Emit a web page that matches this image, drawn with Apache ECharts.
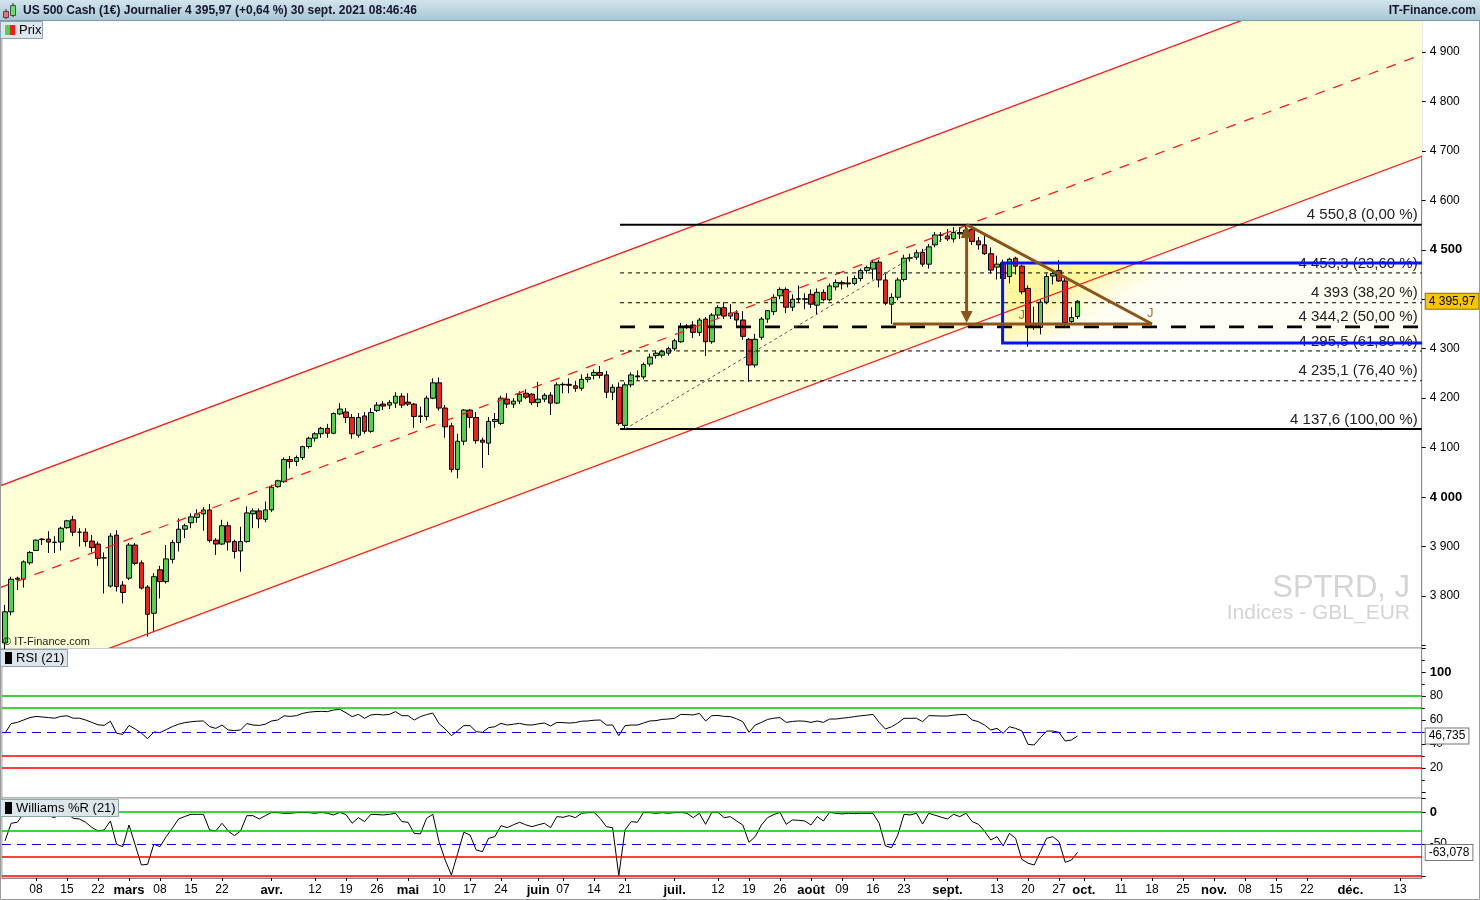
<!DOCTYPE html>
<html><head><meta charset="utf-8">
<script src="https://cdn.jsdelivr.net/npm/echarts@6/dist/echarts.min.js"></script>
<style>html,body{margin:0;padding:0;background:#fff;}#c{width:1480px;height:900px;}</style>
</head><body><div id="c"></div>
<script>
// ---------- DATA ----------
const startDate = '2021-02-01';
const dayCount = 229;
const open = [3705,3768,3834,3834,3867,3892,3914,3915,3908,3909,
3938,3954,3929,3929,3911,3905,3877,3820,3923,3822,
3836,3903,3867,3818,3765,3853,3829,3874,3908,3935,
3948,3959,3966,3974,3913,3905,3942,3910,3891,3910,
3966,3972,3955,3974,4021,4031,4076,4072,4080,4102,
4119,4128,4139,4129,4168,4172,4161,4125,4164,4133,
4175,4188,4186,4190,4204,4192,4188,4163,4163,4200,
4231,4180,4144,4056,4113,4176,4161,4115,4109,4153,
4149,4198,4188,4194,4210,4208,4191,4198,4206,4190,
4227,4228,4225,4220,4238,4246,4252,4247,4212,4222,
4145,4227,4245,4243,4269,4286,4287,4291,4300,4314,
4344,4348,4333,4360,4314,4368,4383,4366,4372,4358,
4319,4267,4323,4360,4375,4407,4420,4384,4400,4401,
4410,4388,4414,4399,4425,4434,4431,4432,4442,4458,
4461,4475,4439,4390,4404,4440,4483,4485,4495,4471,
4510,4530,4528,4522,4535,4535,4541,4518,4510,4492,
4465,4474,4446,4483,4467,4422,4350,4343,4394,4447,
4458,4437,4355,4365];
const high = [3782,3839,3839,3872,3891,3914,3917,3931,3921,3940,
3954,3962,3937,3937,3923,3910,3888,3927,3933,3830,
3907,3907,3872,3822,3846,3861,3903,3913,3957,3946,
3967,3975,3980,3986,3917,3954,3950,3914,3940,3981,
3977,3977,3991,4025,4035,4080,4083,4084,4104,4122,
4131,4142,4148,4171,4190,4180,4168,4170,4172,4180,
4192,4194,4196,4212,4210,4210,4190,4183,4205,4240,
4242,4186,4150,4128,4178,4178,4172,4120,4162,4170,
4205,4210,4200,4214,4218,4210,4233,4210,4212,4232,
4232,4240,4235,4248,4250,4258,4265,4255,4228,4232,
4232,4252,4256,4272,4290,4295,4298,4304,4320,4352,
4350,4356,4362,4364,4372,4388,4394,4390,4378,4376,
4322,4330,4364,4378,4410,4424,4424,4410,4428,4412,
4420,4422,4420,4432,4440,4438,4446,4448,4462,4468,
4480,4480,4452,4412,4444,4490,4492,4500,4502,4512,
4536,4536,4542,4546,4546,4550.8,4546,4526,4530,4505,
4488,4480,4484,4486,4470,4428,4385,4400,4452,4458,
4479,4445,4384,4398];
const low = [3690,3761,3812,3817,3863,3891,3903,3887,3887,3892,
3936,3921,3900,3900,3888,3861,3805,3817,3809,3785,
3832,3862,3813,3718,3728,3795,3825,3866,3890,3917,
3937,3948,3932,3908,3883,3903,3892,3876,3849,3908,
3937,3937,3949,3970,4019,4029,4058,4063,4075,4098,
4112,4120,4120,4127,4166,4150,4118,4120,4128,4130,
4172,4176,4178,4180,4180,4184,4140,4150,4155,4198,
4175,4120,4050,4038,4105,4140,4108,4059,4085,4140,
4146,4180,4180,4188,4198,4186,4182,4192,4166,4188,
4210,4210,4213,4215,4232,4238,4240,4200,4196,4145,
4137.6,4222,4236,4238,4264,4280,4282,4286,4296,4312,
4340,4322,4326,4285,4310,4362,4360,4360,4345,4318,
4233,4262,4318,4352,4368,4400,4372,4376,4394,4380,
4382,4370,4396,4396,4418,4420,4424,4428,4436,4452,
4440,4424,4388,4350,4398,4436,4476,4480,4466,4462,
4505,4516,4518,4515,4522,4530,4510,4500,4490,4452,
4440,4432,4432,4450,4410,4304,4338,4329,4390,4430,
4435,4345,4350,4360];
const close = [3768,3834,3836,3869,3888,3913,3915,3909,3909,3937,
3952,3929,3929,3910,3898,3876,3877,3921,3819,3807,
3903,3866,3816,3763,3839,3829,3875,3908,3935,3942,
3960,3966,3974,3912,3905,3942,3909,3890,3910,3968,
3972,3956,3974,4020,4033,4076,4072,4080,4102,4119,
4128,4139,4129,4169,4178,4161,4128,4161,4133,4171,
4186,4184,4191,4204,4186,4188,4163,4164,4200,4231,
4180,4142,4056,4113,4176,4161,4114,4111,4153,4157,
4200,4188,4194,4208,4202,4191,4198,4206,4190,4227,
4228,4226,4220,4238,4242,4252,4246,4212,4222,4149,
4227,4247,4243,4268,4283,4291,4294,4300,4316,4343,
4346,4333,4358,4314,4368,4383,4366,4372,4358,4325,
4267,4319,4360,4377,4404,4420,4384,4400,4401,4400,
4390,4414,4399,4427,4434,4431,4433,4442,4458,4464,
4475,4439,4392,4404,4439,4483,4484,4494,4471,4506,
4530,4530,4522,4535,4532,4540,4517,4510,4492,4459,
4471,4442,4481,4467,4415,4343,4343,4394,4446,4452,
4437,4353,4363,4395.97];
const rsi = [49,57,58,60,62,63,62.5,62,61.5,63,
63.5,61.5,61.5,60,58,56,55.5,59,49,48,
55.5,52.5,49,44.5,50,49.5,52,54.5,56.5,57.8,
58.5,59,59.2,54.5,53,55.8,51.7,51.2,51.7,57,
55.8,55.5,56.5,59.2,60,63.5,63,63.6,65.5,66.5,
67,67.2,67,68.3,68.9,66,62.8,64.7,61.4,64.2,
64.7,64.2,64.7,67,63.6,63.6,60,62.8,64.5,65.8,
57,52.5,47,51,55.3,55.3,50.3,49.7,53.6,54.4,
57.2,55.8,56.5,57.2,56,55.8,56.8,57.5,55,58,
57.8,57.5,57.8,59,59.2,59.8,60,55.8,55.8,47,
55.3,55.8,55.8,57.5,59.2,59.5,60.5,60.8,61.4,64.7,
64.5,64.2,65.5,59.2,63.6,63.8,63,62.8,61,58.6,
49.7,55.8,58,60.5,61.5,62,58,58.8,59.2,59,
58,59.2,58,60.8,60.8,61.5,62,62.8,63.5,64,
64.7,58,52.5,54.4,57.5,61.4,61.4,61.5,58.6,63.6,
63.5,63.3,63.3,64,64.5,64.7,60,58.6,55.8,51.7,
53,48.9,54.4,53,51,39.7,39.2,45.3,50.8,50.8,
49.7,42.5,43.3,46.735];
const willr = [-45,-17.6,-16,-2,0,-0.5,-2,-6,-8.8,-2,
-2,-9.8,-10.9,-16,-24,-29.6,-28,-14,-50.5,-54.1,
-20.3,-51.5,-82.8,-81.7,-50.5,-54.1,-38.5,-25,-10.9,-7,
-3.6,-3.6,-3.6,-28,-29.6,-17.6,-29.6,-36.9,-29.6,-5.7,
-5.7,-10.9,-5.7,-0.5,-1,-2,-2,-1,-0.5,-1,
-2,-0.5,-2,-4.6,-0.5,-4,-17.6,-8.8,-15,-3.6,
-4,-4.6,-3.6,-2,-15,-16,-33.3,-34.3,-9.8,-3.6,
-46.3,-75,-98.4,-65,-31.7,-35.9,-59.3,-61.9,-41.1,-38.5,
-21.3,-24.4,-20,-16,-20,-22.9,-20,-17.6,-24.4,-7.2,
-8.3,-5.7,-8.8,-2,-1,-0.5,-10,-22.9,-24.4,-99.4,
-28,-15,-16,-0.5,-1,-2,-1,-2,-1,-0.5,
-2,-8.8,-2,-19.2,-0.5,-0.5,-8.8,-7.2,-14,-20.3,
-47.3,-38.5,-20.3,-8.8,-4,-0.5,-19.2,-12.4,-13,-14,
-20.3,-7.2,-14,-0.5,-2,-3,-2,-2.5,-2,-2,
-2,-17.6,-53,-55.7,-35.9,-3.6,-4.6,-2,-18.7,-2,
-5,-8,-10.9,-3.6,-7.2,-2,-15,-19.2,-30,-43.7,
-38.5,-53,-33.3,-41.1,-73.9,-80,-82.8,-61.9,-41.1,-38.5,
-46.3,-78.6,-75,-63.078];
const tickLabels = [['2021-02-08','08'],['2021-02-15','15'],['2021-02-22','22'],['2021-03-01','mars',1],['2021-03-08','08'],['2021-03-15','15'],['2021-03-22','22'],['2021-04-01','avr.',1],['2021-04-12','12'],['2021-04-19','19'],['2021-04-26','26'],['2021-05-03','mai',1],['2021-05-10','10'],['2021-05-17','17'],['2021-05-24','24'],['2021-06-01','juin',1],['2021-06-07','07'],['2021-06-14','14'],['2021-06-21','21'],['2021-07-01','juil.',1],['2021-07-12','12'],['2021-07-19','19'],['2021-07-26','26'],['2021-08-02','août',1],['2021-08-09','09'],['2021-08-16','16'],['2021-08-23','23'],['2021-09-01','sept.',1],['2021-09-13','13'],['2021-09-20','20'],['2021-09-27','27'],['2021-10-01','oct.',1],['2021-10-11','11'],['2021-10-18','18'],['2021-10-25','25'],['2021-11-01','nov.',1],['2021-11-08','08'],['2021-11-15','15'],['2021-11-22','22'],['2021-12-01','déc.',1],['2021-12-13','13']];
const fibLevels = [4550.8, 4453.3, 4393, 4344.2, 4295.5, 4235.1, 4137.6];
const fibRatios = [0, 23.6, 38.2, 50, 61.8, 76.4, 100];
const fibLabels = ['4 550,8 (0,00 %)','4 453,3 (23,60 %)','4 393 (38,20 %)','4 344,2 (50,00 %)','4 295,5 (61,80 %)','4 235,1 (76,40 %)','4 137,6 (100,00 %)'];
const fibStart = 99.2;
const fibAnchor = [[100, 4137.6],[155.1, 4550.8]];
const channelUpper = [[-1, 4021.6],[229, 5102.6]];
const channelLower = [[-1, 3610.5],[229, 4691.5]];
const boxRect = [[160.9, 4473.4],[240, 4311.6]];
const triBase = [[143.2, 4350],[185, 4350]];
const triTop = [[155.1, 4550.8],[185, 4350]];
const arrowV = [[155.1, 4548],[155.1, 4352]];
const jMarks = [[164, 4368],[184.7, 4372]];
const lastPrice = 4395.97, lastRsi = 46.735, lastWill = -63.078;
const rsiLevels = [[80,'g'],[70,'g'],[50,'b'],[30,'r'],[20,'r']];
const willLevels = [[0,'g'],[-30,'g'],[-50,'b'],[-70,'r'],[-100,'r']];
const titleText = 'US 500 Cash (1€) Journalier 4 395,97 (+0,64 %) 30 sept. 2021 08:46:46';

// ---------- BUILD ----------
const FONT = '"Liberation Sans", Arial, sans-serif';
const categories = [];
{ const p = startDate.split('-').map(Number); const d = new Date(Date.UTC(p[0], p[1]-1, p[2]));
  while (categories.length < dayCount) { const w = d.getUTCDay(); if (w > 0 && w < 6) categories.push(d.toISOString().slice(0,10)); d.setUTCDate(d.getUTCDate()+1); } }
const tickMap = {}; tickLabels.forEach(t => { tickMap[t[0]] = t; });
function grp(s){ return s.replace(/\B(?=(\d{3})+(?!\d))/g, ' '); }
function fmtDec(v, d){ const neg = v < 0; const s = Math.abs(v).toFixed(d).split('.'); return (neg?'-':'') + grp(s[0]) + (s[1] ? ','+s[1] : ''); }
const candleData = open.map((o,i) => [o, close[i], low[i], high[i]]);
const lvlColor = {g:'#00c400', b:'#0000ff', r:'#ff0000'};
function levelLines(arr){ return arr.map(l => ({yAxis:l[0], lineStyle:{color:lvlColor[l[1]], width: l[1]==='b'?1.2:1.5, type: l[1]==='b'?[9,6]:'solid'}})); }
function valueBox(v, txt, bg, bc){ return {yAxis:v, lineStyle:{width:0, color:'rgba(0,0,0,0)'}, label:{show:true, position:'end', distance:4, formatter: txt, backgroundColor:bg, borderColor:bc, borderWidth:1, padding:[2,3,1,3], color:'#000', fontSize:12, fontFamily:FONT}}; }

function bgRender(params, api){
  const P = p => api.coord(p);
  const u0=P(channelUpper[0]), u1=P(channelUpper[1]), l0=P(channelLower[0]), l1=P(channelLower[1]);
  const b0=P(boxRect[0]), b1=P(boxRect[1]);
  const g = new echarts.graphic.LinearGradient(b0[0], b0[1], b0[0]+62, b0[1]+96, [
    {offset:0, color:'rgba(255,238,80,0.45)'},
    {offset:0.55, color:'rgba(255,238,80,0.40)'},
    {offset:0.85, color:'rgba(255,240,120,0.10)'},
    {offset:1, color:'rgba(255,240,120,0.08)'}], true);
  return {type:'group', children:[
    {type:'polygon', shape:{points:[u0,u1,l1,l0]}, style:{fill:'#ffffd6'}},
    {type:'rect', shape:{x:b0[0], y:b0[1], width:b1[0]-b0[0], height:b1[1]-b0[1]}, style:{fill:g}}
  ]};
}
function fgRender(params, api){
  const P = p => api.coord(p);
  const ch = [];
  const L = (a,b,st) => ch.push({type:'line', shape:{x1:a[0],y1:a[1],x2:b[0],y2:b[1]}, style:st});
  const red = '#ff1a1a';
  const m0 = [channelUpper[0][0], (channelUpper[0][1]+channelLower[0][1])/2];
  const m1 = [channelUpper[1][0], (channelUpper[1][1]+channelLower[1][1])/2];
  L(P(channelUpper[0]), P(channelUpper[1]), {stroke:red, lineWidth:1.3});
  L(P(channelLower[0]), P(channelLower[1]), {stroke:red, lineWidth:1.3});
  L(P(m0), P(m1), {stroke:red, lineWidth:1.3, lineDash:[10,9]});
  const xEnd = dayCount - 0.5;
  fibLevels.forEach((v,k) => {
    const a = P([fibStart, v]), b = P([xEnd, v]);
    let st;
    if (fibRatios[k] === 0 || fibRatios[k] === 100) st = {stroke:'#000', lineWidth:2};
    else if (fibRatios[k] === 50) st = {stroke:'#000', lineWidth:2.6, lineDash:[15,14]};
    else st = {stroke:'#000', lineWidth:1, lineDash:[4,4]};
    L(a, b, st);
    ch.push({type:'text', x:b[0]-4, y:b[1]-2, style:{text:fibLabels[k], align:'right', verticalAlign:'bottom', textAlign:'right', textVerticalAlign:'bottom', font:'15px '+FONT, fill:'#222'}});
  });
  L(P(fibAnchor[0]), P(fibAnchor[1]), {stroke:'#555', lineWidth:1, lineDash:[3,3]});
  const b0=P(boxRect[0]), b1=P(boxRect[1]);
  ch.push({type:'rect', shape:{x:b0[0], y:b0[1], width:b1[0]-b0[0], height:b1[1]-b0[1]}, style:{fill:'none', stroke:'#0014ff', lineWidth:3}});
  const brown = '#8c5418';
  L(P(triBase[0]), P(triBase[1]), {stroke:brown, lineWidth:3});
  L(P(triTop[0]), P(triTop[1]), {stroke:brown, lineWidth:3});
  const a0 = P(arrowV[0]), a1 = P(arrowV[1]);
  L([a0[0], a0[1]+8], [a1[0], a1[1]-8], {stroke:brown, lineWidth:3});
  ch.push({type:'polygon', shape:{points:[[a0[0],a0[1]],[a0[0]-6,a0[1]+12],[a0[0]+6,a0[1]+12]]}, style:{fill:brown}});
  ch.push({type:'polygon', shape:{points:[[a1[0],a1[1]],[a1[0]-6,a1[1]-12],[a1[0]+6,a1[1]-12]]}, style:{fill:brown}});
  jMarks.forEach(j => { const q = P(j); ch.push({type:'text', x:q[0], y:q[1], style:{text:'J', align:'center', verticalAlign:'middle', textAlign:'center', textVerticalAlign:'middle', font:'13px '+FONT, fill:'#a46d3c'}}); });
  return {type:'group', children:ch};
}

const axisLab = {color:'#000', fontSize:12, fontFamily:FONT};
const boldRich = {b:{fontWeight:'bold', fontSize:13, color:'#000', fontFamily:FONT}};
const yCommon = {position:'right', axisLine:{show:true, onZero:false, lineStyle:{color:'#8a8a8a'}}, axisTick:{show:true, length:4, lineStyle:{color:'#000'}}, splitLine:{show:false}};
const xHidden = {type:'category', data:categories, boundaryGap:true, axisLine:{show:false, onZero:false}, axisTick:{show:false}, axisLabel:{show:false}, splitLine:{show:false}};
const labelInterval = (idx, val) => !!tickMap[val];

const chart = echarts.init(document.getElementById('c'));
chart.setOption({
  animation:false,
  backgroundColor:'#fff',
  textStyle:{fontFamily:FONT},
  grid:[
    {left:1.9, top:20, width:1419.8, height:628, show:true, borderColor:'#9a9a9a', borderWidth:1, backgroundColor:'#fff', outerBoundsMode:'none', containLabel:false},
    {left:1.9, top:648, width:1419.8, height:150, show:true, borderColor:'#9a9a9a', borderWidth:1, backgroundColor:'#fff', outerBoundsMode:'none', containLabel:false},
    {left:1.9, top:798, width:1419.8, height:80, show:true, borderColor:'#9a9a9a', borderWidth:1, backgroundColor:'#fff', outerBoundsMode:'none', containLabel:false}
  ],
  xAxis:[
    Object.assign({gridIndex:0}, xHidden),
    Object.assign({gridIndex:1}, xHidden),
    {type:'category', gridIndex:2, data:categories, boundaryGap:true,
     axisLine:{show:true, onZero:false, lineStyle:{color:'#8a8a8a'}},
     axisTick:{show:true, interval:labelInterval, alignWithLabel:true, length:3, lineStyle:{color:'#000'}},
     axisLabel:Object.assign({interval:labelInterval, margin:6, hideOverlap:false,
       formatter:(val) => { const t = tickMap[val]; if (!t) return ''; return t[2] ? '{m|'+t[1]+'}' : t[1]; },
       rich:{m:{fontWeight:'bold', fontSize:13, color:'#000', fontFamily:FONT}}}, axisLab),
     splitLine:{show:false}},
    {type:'value', gridIndex:0, min:-0.5, max:dayCount-0.5, show:false, axisLine:{onZero:false}, splitLine:{show:false}}
  ],
  yAxis:[
    Object.assign({type:'value', gridIndex:0, min:3694.8, max:4964.7, splitNumber:12,
      axisLabel:Object.assign({showMinLabel:false, showMaxLabel:false, rich:boldRich,
        formatter:v => { if (v < 3750 || v > 4950) return ''; const s = grp(String(Math.round(v))); return v % 500 === 0 ? '{b|'+s+'}' : s; }}, axisLab)}, yCommon),
    Object.assign({type:'value', gridIndex:1, min:-5, max:120, splitNumber:6,
      minorTick:{show:true, splitNumber:2, length:3, lineStyle:{color:'#000'}},
      axisLabel:Object.assign({showMinLabel:false, showMaxLabel:false, rich:boldRich,
        formatter:v => (v < 10 || v > 110) ? '' : (v === 100 ? '{b|100}' : String(v))}, axisLab)}, yCommon),
    Object.assign({type:'value', gridIndex:2, min:-103.1, max:21.9, splitNumber:2,
      axisLabel:Object.assign({showMinLabel:false, showMaxLabel:false, rich:boldRich,
        formatter:v => (v < -75 || v > 10) ? '' : (v === 0 ? '{b|0}' : String(v))}, axisLab)}, yCommon)
  ],
  series:[
    {type:'custom', xAxisIndex:3, yAxisIndex:0, z:1, clip:true, silent:true, renderItem:bgRender, data:[[0,4000]]},
    {type:'candlestick', xAxisIndex:0, yAxisIndex:0, z:2, barWidth:5, data:candleData,
     itemStyle:{color:'#4fd34f', color0:'#ee2020', borderColor:'#000', borderColor0:'#000', borderWidth:1},
     markLine:{silent:true, symbol:['none','none'], animation:false, data:[valueBox(lastPrice, fmtDec(lastPrice,2), '#f7c600', '#8c7000')]}},
    {type:'custom', xAxisIndex:3, yAxisIndex:0, z:3, clip:true, silent:true, renderItem:fgRender, data:[[0,4000]]},
    {type:'line', xAxisIndex:1, yAxisIndex:1, data:rsi, symbol:'none', z:3, lineStyle:{color:'#000', width:1},
     markLine:{silent:true, symbol:['none','none'], animation:false, label:{show:false}, data:levelLines(rsiLevels).concat([valueBox(lastRsi, fmtDec(lastRsi,3), '#fff', '#777')])}},
    {type:'line', xAxisIndex:2, yAxisIndex:2, data:willr, symbol:'none', z:3, lineStyle:{color:'#000', width:1},
     markLine:{silent:true, symbol:['none','none'], animation:false, label:{show:false}, data:levelLines(willLevels).concat([valueBox(lastWill, fmtDec(lastWill,3), '#fff', '#777')])}}
  ],
  graphic:[
    {type:'rect', z:100, shape:{x:0,y:0,width:1480,height:20}, style:{fill:new echarts.graphic.LinearGradient(0,0,0,1,[{offset:0,color:'#d2e4ec'},{offset:1,color:'#a9c6d5'}])}},
    {type:'line', z:100, shape:{x1:0,y1:20.5,x2:1480,y2:20.5}, style:{stroke:'#7d9aa8', lineWidth:1}},
    {type:'line', z:101, shape:{x1:6,y1:9,x2:6,y2:19}, style:{stroke:'#333', lineWidth:1}},
    {type:'rect', z:101, shape:{x:3.5,y:11.5,width:5,height:6}, style:{fill:'#f07070', stroke:'#333', lineWidth:0.8}},
    {type:'line', z:101, shape:{x1:13,y1:3,x2:13,y2:17}, style:{stroke:'#333', lineWidth:1}},
    {type:'rect', z:101, shape:{x:10.5,y:5.5,width:5,height:10}, style:{fill:'#66e066', stroke:'#333', lineWidth:0.8}},
    {type:'text', z:101, x:23, y:11, style:{text:titleText, font:'bold 12px '+FONT, fill:'#14142b', verticalAlign:'middle', textVerticalAlign:'middle'}},
    {type:'text', z:101, x:1476, y:11, style:{text:'IT-Finance.com', font:'bold 12px '+FONT, fill:'#14142b', align:'right', textAlign:'right', verticalAlign:'middle', textVerticalAlign:'middle'}},
    {type:'rect', z:101, shape:{x:0.5,y:21.5,width:42,height:17}, style:{fill:'#dde6eb', stroke:'#8fa3ae', lineWidth:1}},
    {type:'rect', z:102, shape:{x:5,y:25,width:5,height:10}, style:{fill:'#4fd34f'}},
    {type:'rect', z:102, shape:{x:10,y:25,width:5,height:10}, style:{fill:'#ee2020'}},
    {type:'text', z:102, x:19, y:30.5, style:{text:'Prix', font:'13px '+FONT, fill:'#000', verticalAlign:'middle', textVerticalAlign:'middle'}},
    {type:'text', z:101, x:3, y:642, style:{text:'© IT-Finance.com', font:'11px '+FONT, fill:'#222', verticalAlign:'middle', textVerticalAlign:'middle'}},
    {type:'text', z:101, x:1410, y:588, style:{text:'SPTRD, J', font:'31px '+FONT, fill:'#d4d4d4', align:'right', textAlign:'right', verticalAlign:'middle', textVerticalAlign:'middle'}},
    {type:'text', z:101, x:1410, y:613, style:{text:'Indices - GBL_EUR', font:'21px '+FONT, fill:'#d4d4d4', align:'right', textAlign:'right', verticalAlign:'middle', textVerticalAlign:'middle'}},
    {type:'rect', z:101, shape:{x:0.5,y:649.5,width:67,height:17}, style:{fill:'#dde6eb', stroke:'#8fa3ae', lineWidth:1}},
    {type:'rect', z:102, shape:{x:5,y:652,width:7,height:12}, style:{fill:'#000'}},
    {type:'text', z:102, x:16, y:658.5, style:{text:'RSI (21)', font:'13px '+FONT, fill:'#000', verticalAlign:'middle', textVerticalAlign:'middle'}},
    {type:'rect', z:101, shape:{x:0.5,y:799.5,width:118,height:17}, style:{fill:'#dde6eb', stroke:'#8fa3ae', lineWidth:1}},
    {type:'rect', z:102, shape:{x:5,y:802,width:7,height:12}, style:{fill:'#000'}},
    {type:'text', z:102, x:16, y:808.5, style:{text:'Williams %R (21)', font:'13px '+FONT, fill:'#000', verticalAlign:'middle', textVerticalAlign:'middle'}},
    {type:'rect', z:99, shape:{x:0.5,y:0.5,width:1479,height:899}, style:{fill:'none', stroke:'#9a9a9a', lineWidth:1}}
  ]
});
</script></body></html>
